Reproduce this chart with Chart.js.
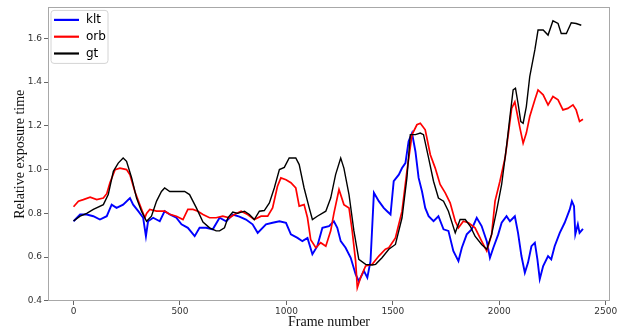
<!DOCTYPE html>
<html><head><meta charset="utf-8">
<script src="https://cdn.jsdelivr.net/npm/chart.js@4"></script>
<style>html,body{margin:0;padding:0;background:#fff}#wrap{width:621px;height:329px;position:relative}</style>
</head><body><div id="wrap"><canvas id="c" width="621" height="329"></canvas></div>
<script>
const seriesLabels = ['klt', 'orb', 'gt'];
const seriesColors = ['#0000ff', '#ff0000', '#000000'];

const kltFrames = [0,31,62,93,124,156,179,202,233,265,280,304,327,340,350,374,405,428,452,483,507,537,569,592,623,654,686,717,748,779,810,841,865,904,935,967,998,1021,1052,1075,1099,1122,1145,1169,1200,1223,1239,1255,1278,1302,1325,1340,1364,1380,1395,1411,1434,1457,1473,1489,1504,1528,1543,1559,1574,1590,1606,1621,1637,1652,1668,1691,1714,1738,1761,1784,1808,1824,1847,1870,1894,1917,1941,1956,1972,1995,2011,2034,2050,2073,2088,2104,2120,2135,2151,2167,2179,2190,2206,2229,2244,2260,2284,2307,2331,2341,2351,2357,2369,2377,2393];
const kltValues = [0.764,0.795,0.795,0.787,0.772,0.787,0.84,0.825,0.84,0.87,0.84,0.81,0.78,0.696,0.764,0.78,0.764,0.81,0.795,0.78,0.75,0.734,0.696,0.734,0.734,0.727,0.78,0.764,0.795,0.785,0.772,0.75,0.711,0.75,0.757,0.764,0.757,0.704,0.688,0.673,0.688,0.613,0.65,0.734,0.742,0.764,0.734,0.673,0.643,0.597,0.522,0.49,0.537,0.506,0.582,0.894,0.856,0.825,0.81,0.795,0.947,0.977,1.007,1.03,1.13,1.167,1.083,0.962,0.90,0.825,0.787,0.764,0.787,0.727,0.72,0.628,0.582,0.643,0.704,0.727,0.78,0.742,0.673,0.597,0.643,0.704,0.757,0.787,0.764,0.787,0.711,0.605,0.529,0.575,0.65,0.666,0.59,0.499,0.559,0.605,0.59,0.65,0.711,0.757,0.818,0.856,0.833,0.704,0.75,0.711,0.729];

const orbFrames = [0,23,46,78,109,140,156,171,195,218,249,265,288,311,335,343,358,390,428,452,483,514,537,561,584,608,639,670,701,732,756,787,818,849,881,912,935,958,974,998,1021,1044,1060,1083,1099,1114,1138,1161,1185,1208,1223,1247,1270,1294,1309,1325,1333,1348,1372,1403,1434,1465,1481,1512,1543,1566,1590,1613,1629,1652,1676,1699,1722,1746,1769,1793,1808,1831,1855,1886,1917,1941,1964,1980,2003,2027,2042,2058,2073,2097,2112,2127,2143,2167,2182,2206,2229,2252,2276,2299,2322,2346,2361,2377,2393];
const orbValues = [0.83,0.856,0.863,0.874,0.863,0.87,0.89,0.94,1.0,1.007,1.0,0.977,0.90,0.84,0.78,0.80,0.818,0.81,0.81,0.796,0.787,0.772,0.818,0.818,0.81,0.795,0.78,0.78,0.787,0.78,0.795,0.81,0.795,0.772,0.787,0.787,0.825,0.924,0.962,0.954,0.94,0.916,0.833,0.84,0.78,0.68,0.643,0.666,0.65,0.72,0.80,0.909,0.84,0.825,0.72,0.582,0.46,0.506,0.56,0.567,0.605,0.636,0.643,0.688,0.81,0.992,1.16,1.205,1.212,1.182,1.068,1.007,0.932,0.894,0.848,0.764,0.734,0.764,0.757,0.734,0.673,0.628,0.704,0.856,0.947,1.053,1.16,1.28,1.31,1.19,1.121,1.167,1.243,1.319,1.364,1.342,1.296,1.334,1.319,1.273,1.28,1.296,1.273,1.22,1.23];

const gtFrames = [0,31,62,93,140,163,187,210,233,249,273,296,319,343,366,390,413,428,452,491,522,545,577,608,639,670,686,709,725,748,771,803,826,849,873,896,920,943,967,990,1013,1044,1060,1083,1107,1122,1145,1185,1208,1231,1255,1270,1294,1317,1340,1372,1403,1419,1449,1481,1512,1543,1566,1582,1606,1629,1644,1668,1691,1714,1738,1761,1793,1816,1840,1863,1886,1917,1941,1964,1987,2011,2034,2050,2065,2076,2088,2101,2112,2127,2143,2167,2182,2206,2229,2252,2276,2291,2315,2338,2361,2385];
const gtValues = [0.765,0.787,0.80,0.818,0.84,0.886,0.992,1.03,1.053,1.038,0.962,0.87,0.81,0.764,0.787,0.856,0.90,0.916,0.90,0.90,0.90,0.886,0.825,0.76,0.734,0.72,0.72,0.734,0.78,0.806,0.80,0.81,0.795,0.772,0.81,0.813,0.848,0.916,1.0,1.01,1.053,1.053,1.023,0.916,0.825,0.772,0.787,0.81,0.87,0.977,1.053,1.007,0.886,0.72,0.59,0.567,0.564,0.567,0.597,0.636,0.658,0.78,0.962,1.16,1.16,1.167,1.16,1.053,0.947,0.87,0.856,0.81,0.711,0.772,0.772,0.742,0.696,0.658,0.636,0.704,0.81,0.932,1.106,1.243,1.364,1.372,1.303,1.22,1.212,1.288,1.425,1.547,1.638,1.638,1.615,1.68,1.668,1.622,1.622,1.671,1.668,1.66];

const xTicks = [0, 500, 1000, 1500, 2000, 2500];
const yTicks = [0.4, 0.6, 0.8, 1.0, 1.2, 1.4, 1.6];
const xTitle = 'Frame number';
const yTitle = 'Relative exposure time';

const pairs = (fr, vals) => fr.map((f, i) => ({x: f, y: vals[i]}));

const framePlugin = {
  id: 'frame',
  afterDatasetsDraw(chart) {
    const {ctx, chartArea: a} = chart;
    ctx.save();
    ctx.strokeStyle = '#a8a8a8';
    ctx.lineWidth = 1;
    ctx.strokeRect(Math.round(a.left) + 0.5, Math.round(a.top) + 0.5, Math.round(a.right - a.left) - 1, Math.round(a.bottom - a.top) - 1);
    ctx.restore();
  }
};

const legendPlugin = {
  id: 'mplLegend',
  afterDraw(chart) {
    const {ctx, chartArea: a} = chart;
    const x0 = a.left + 3, y0 = a.top + 3, w = 57, h = 53, r = 3;
    ctx.save();
    ctx.beginPath();
    ctx.moveTo(x0 + r, y0);
    ctx.lineTo(x0 + w - r, y0); ctx.arcTo(x0 + w, y0, x0 + w, y0 + r, r);
    ctx.lineTo(x0 + w, y0 + h - r); ctx.arcTo(x0 + w, y0 + h, x0 + w - r, y0 + h, r);
    ctx.lineTo(x0 + r, y0 + h); ctx.arcTo(x0, y0 + h, x0, y0 + h - r, r);
    ctx.lineTo(x0, y0 + r); ctx.arcTo(x0, y0, x0 + r, y0, r);
    ctx.closePath();
    ctx.fillStyle = 'rgba(255,255,255,0.85)';
    ctx.fill();
    ctx.strokeStyle = '#d4d4d4';
    ctx.lineWidth = 1;
    ctx.stroke();
    ctx.font = '12px "DejaVu Sans"';
    ctx.textBaseline = 'middle';
    ctx.textAlign = 'left';
    chart.data.datasets.forEach((ds, i) => {
      const y = y0 + 9.5 + i * 16.8;
      ctx.strokeStyle = ds.borderColor;
      ctx.lineWidth = 2.2;
      ctx.beginPath();
      ctx.moveTo(x0 + 3, y); ctx.lineTo(x0 + 28, y);
      ctx.stroke();
      ctx.fillStyle = '#000';
      ctx.fillText(ds.label, x0 + 35, y);
    });
    ctx.restore();
  }
};

new Chart(document.getElementById('c'), {
  type: 'line',
  data: {
    datasets: [
      {label: seriesLabels[0], data: pairs(kltFrames, kltValues), borderColor: seriesColors[0], borderWidth: 1.9, order: 3},
      {label: seriesLabels[1], data: pairs(orbFrames, orbValues), borderColor: seriesColors[1], borderWidth: 1.7, order: 2},
      {label: seriesLabels[2], data: pairs(gtFrames, gtValues), borderColor: seriesColors[2], borderWidth: 1.4, order: 1}
    ]
  },
  options: {
    responsive: false,
    animation: false,
    devicePixelRatio: 1,
    layout: {padding: {top: 5, right: 11, left: 0, bottom: 0}},
    elements: {point: {radius: 0}, line: {tension: 0, fill: false}},
    plugins: {legend: {display: false}, tooltip: {enabled: false}},
    scales: {
      x: {
        type: 'linear', min: -120, max: 2520,
        afterBuildTicks: s => { s.ticks = xTicks.map(v => ({value: v})); },
        afterFit: s => { s.height = 28; },
        ticks: {padding: 1, color: '#333', font: {family: '"DejaVu Sans"', size: 9}, maxRotation: 0, callback: v => String(v)},
        grid: {display: true, drawOnChartArea: false, drawTicks: true, tickLength: 4, tickColor: '#666'},
        border: {display: false},
        title: {display: true, text: xTitle, color: '#111', font: {family: '"Liberation Serif"', size: 14, lineHeight: 1}, padding: {top: 0, bottom: 0}}
      },
      y: {
        type: 'linear', min: 0.3995, max: 1.7415,
        afterBuildTicks: s => { s.ticks = yTicks.map(v => ({value: v})); },
        afterFit: s => { s.width = 48; },
        ticks: {padding: 2, color: '#333', font: {family: '"DejaVu Sans"', size: 9}, callback: v => Number(v).toFixed(1)},
        grid: {display: true, drawOnChartArea: false, drawTicks: true, tickLength: 4, tickColor: '#666'},
        border: {display: false},
        title: {display: true, text: yTitle, color: '#111', font: {family: '"Liberation Serif"', size: 14, lineHeight: 1}, padding: {top: 13.5, bottom: 0}}
      }
    }
  },
  plugins: [framePlugin, legendPlugin]
});
</script>
</body></html>
